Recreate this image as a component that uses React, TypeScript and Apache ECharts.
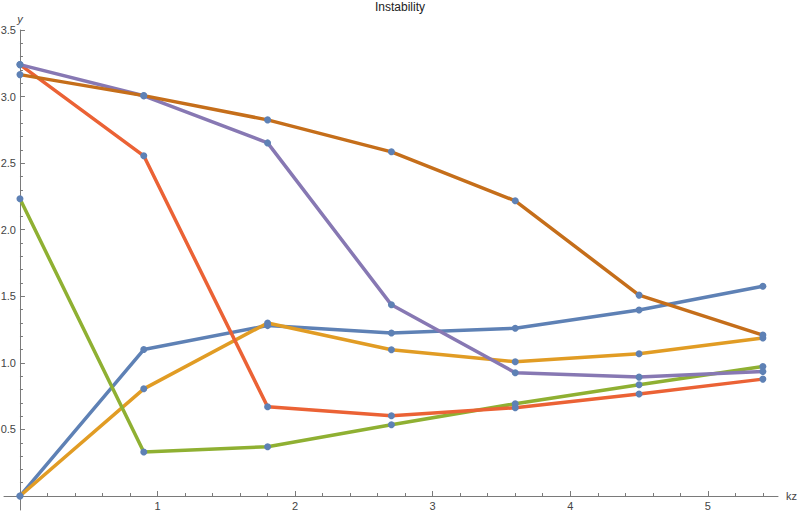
import React, { useEffect, useRef } from "react";
import * as echarts from "echarts";

const xValues = [0, 0.9, 1.8, 2.7, 3.6, 4.5, 5.4];
const seriesBlue = [0, 1.1, 1.28, 1.225, 1.26, 1.397, 1.575];
const seriesOrange = [0, 0.805, 1.3, 1.098, 1.008, 1.068, 1.187];
const seriesGreen = [2.232, 0.33, 0.37, 0.535, 0.693, 0.836, 0.973];
const seriesRed = [3.24, 2.555, 0.67, 0.603, 0.663, 0.766, 0.878];
const seriesPurple = [3.24, 3.006, 2.652, 1.436, 0.926, 0.893, 0.935];
const seriesBrown = [3.165, 3.007, 2.825, 2.585, 2.217, 1.509, 1.209];

const xMajorTicks = [1, 2, 3, 4, 5];
const yMajorTicks = [0.5, 1, 1.5, 2, 2.5, 3, 3.5];

const allSeries = [
  { values: seriesBlue, color: "#5E81B5" },
  { values: seriesOrange, color: "#E19C24" },
  { values: seriesGreen, color: "#8FB032" },
  { values: seriesRed, color: "#EB6235" },
  { values: seriesPurple, color: "#8778B3" },
  { values: seriesBrown, color: "#C56E1A" },
];

const X_MIN = -0.116;
const X_MAX = 5.51;
const Y_MIN = -0.105;
const Y_MAX = 3.5;

const W = 800;
const H = 514;
const GRID = { left: 4, right: 22, top: 30, bottom: 4 };

function minorList(start: number, end: number, step: number, majors: number[]) {
  const out: number[] = [];
  const n = Math.round((end - start) / step);
  for (let i = 0; i <= n; i++) {
    const v = +(start + i * step).toFixed(4);
    if (v === 0) continue;
    if (majors.some((m) => Math.abs(m - v) < 1e-6)) continue;
    out.push(v);
  }
  return out;
}

export default function App() {
  const ref = useRef<HTMLDivElement>(null);
  useEffect(() => {
    document.body.style.margin = "0";
    if (!ref.current) return;
    const chart = echarts.init(ref.current, undefined, { renderer: "svg" });
    const axisColor = "#7a7a7a";
    const labelColor = "#444";
    const font = "Liberation Sans";
    const xMinor = minorList(0, 5.4, 0.2, xMajorTicks);
    const yMinor = minorList(0, 3.4, 0.1, yMajorTicks);

    // shift axes so they cross at the data origin (0,0)
    const plotW = W - GRID.left - GRID.right;
    const plotH = H - GRID.top - GRID.bottom;
    const yAxisOffset = -((0 - X_MIN) / (X_MAX - X_MIN)) * plotW;
    const xAxisOffset = -((0 - Y_MIN) / (Y_MAX - Y_MIN)) * plotH;

    const lineSeries = allSeries.map((s) => ({
      type: "line",
      data: xValues.map((x, i) => [x, s.values[i]]),
      showSymbol: false,
      symbol: "none",
      lineStyle: { color: s.color, width: 3.5 },
      itemStyle: { color: s.color },
      z: 2,
    }));
    const points: number[][] = [];
    allSeries.forEach((s) => xValues.forEach((x, i) => points.push([x, s.values[i]])));

    chart.setOption({
      animation: false,
      backgroundColor: "#fff",
      title: {
        text: "Instability",
        left: "center",
        top: 1,
        padding: 0,
        textStyle: { fontFamily: font, fontSize: 12, fontWeight: "normal", color: "#222" },
      },
      grid: { ...GRID, containLabel: false, outerBoundsMode: "none" },
      xAxis: [
        {
          type: "value",
          min: X_MIN,
          max: X_MAX,
          offset: xAxisOffset,
          name: "kz",
          nameLocation: "end",
          nameGap: 8,
          nameTextStyle: { fontFamily: font, fontSize: 11, color: labelColor },
          axisLine: { onZero: false, lineStyle: { color: axisColor, width: 1 } },
          axisTick: { show: true, inside: true, length: 5, customValues: xMajorTicks, lineStyle: { color: axisColor } },
          axisLabel: { customValues: xMajorTicks, fontFamily: font, fontSize: 11, color: labelColor, margin: 4 },
          splitLine: { show: false },
        },
        {
          type: "value",
          min: X_MIN,
          max: X_MAX,
          position: "bottom",
          offset: xAxisOffset,
          axisLine: { show: false, onZero: false },
          axisTick: { show: true, inside: true, length: 3, customValues: xMinor, lineStyle: { color: axisColor } },
          axisLabel: { show: false },
          splitLine: { show: false },
        },
      ],
      yAxis: [
        {
          type: "value",
          min: Y_MIN,
          max: Y_MAX,
          offset: yAxisOffset,
          name: "y",
          nameLocation: "end",
          nameGap: 6,
          nameTextStyle: { fontFamily: font, fontSize: 11, color: labelColor, fontStyle: "italic", align: "center" },
          axisLine: { onZero: false, lineStyle: { color: axisColor, width: 1 } },
          axisTick: { show: true, inside: true, length: 5, customValues: yMajorTicks, lineStyle: { color: axisColor } },
          axisLabel: {
            customValues: yMajorTicks,
            fontFamily: font,
            fontSize: 11,
            color: labelColor,
            margin: 4,
            formatter: (v: number) => v.toFixed(1),
          },
          splitLine: { show: false },
        },
        {
          type: "value",
          min: Y_MIN,
          max: Y_MAX,
          position: "left",
          offset: yAxisOffset,
          axisLine: { show: false, onZero: false },
          axisTick: { show: true, inside: true, length: 3, customValues: yMinor, lineStyle: { color: axisColor } },
          axisLabel: { show: false },
          splitLine: { show: false },
        },
      ],
      series: [
        ...lineSeries,
        {
          type: "scatter",
          data: points,
          symbol: "circle",
          symbolSize: 7,
          itemStyle: { color: "#5E81B5", opacity: 1 },
          z: 5,
        },
      ],
    });
    return () => chart.dispose();
  }, []);
  return <div ref={ref} style={{ width: W, height: H }} />;
}
